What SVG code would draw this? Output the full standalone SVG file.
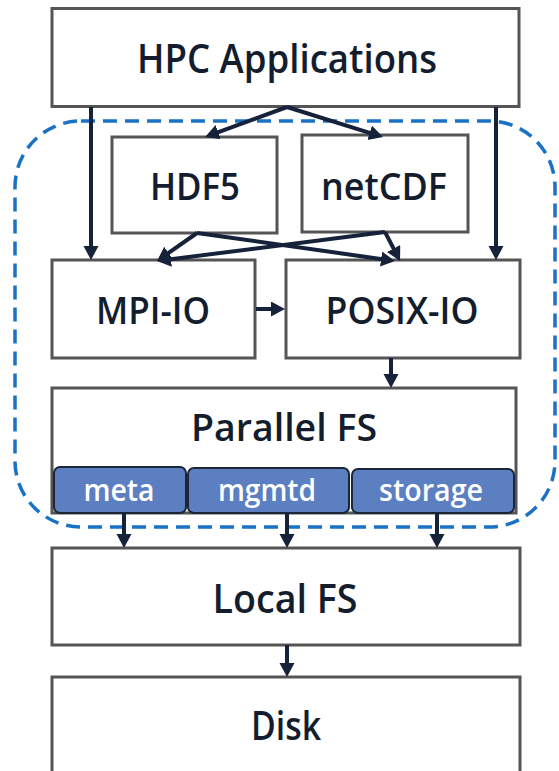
<svg xmlns="http://www.w3.org/2000/svg" width="559" height="771" viewBox="0 0 559 771">
  <style>
    .box { fill: #ffffff; stroke: #555555; stroke-width: 3; }
    .sub { fill: #5b7fc1; stroke: #1c2636; stroke-width: 2; }
    .lbl { font-family: "Open Sans", "Liberation Sans", sans-serif; font-weight: 600; fill: #141d2e; text-anchor: middle; }
    .sublbl { font-family: "Open Sans", "Liberation Sans", sans-serif; font-weight: 600; fill: #ffffff; text-anchor: middle; }
    .edge { stroke: #16213a; stroke-width: 4; fill: none; marker-end: url(#arrow); }
    .zone { fill: none; stroke: #1a72c6; stroke-width: 3.5; stroke-dasharray: 14 8; }
  </style>
  <defs>
    <marker id="arrow" markerUnits="userSpaceOnUse" markerWidth="16" markerHeight="16" refX="10" refY="7.5" orient="auto">
      <path d="M0,0 L14,7.5 L0,15 z" fill="#16213a"/>
    </marker>
  </defs>

  <rect width="559" height="771" fill="#ffffff"/>

  <g id="hpc-applications">
    <rect class="box" x="52" y="8.5" width="467" height="98"/>
    <text class="lbl" x="287" y="73" font-size="40" textLength="300" lengthAdjust="spacingAndGlyphs">HPC Applications</text>
  </g>

  <g id="hdf5">
    <rect class="box" x="112" y="137" width="165" height="96"/>
    <text class="lbl" x="195" y="200" font-size="37" textLength="90" lengthAdjust="spacingAndGlyphs">HDF5</text>
  </g>

  <g id="netcdf">
    <rect class="box" x="302" y="135" width="166" height="97"/>
    <text class="lbl" x="384" y="200" font-size="37" textLength="126" lengthAdjust="spacingAndGlyphs">netCDF</text>
  </g>

  <g id="mpi-io">
    <rect class="box" x="52" y="260" width="203" height="98"/>
    <text class="lbl" x="153" y="324" font-size="37" textLength="114" lengthAdjust="spacingAndGlyphs">MPI-IO</text>
  </g>

  <g id="posix-io">
    <rect class="box" x="286" y="260" width="234" height="98"/>
    <text class="lbl" x="402" y="324" font-size="37" textLength="153" lengthAdjust="spacingAndGlyphs">POSIX-IO</text>
  </g>

  <g id="parallel-fs">
    <rect class="box" x="52" y="388" width="464" height="125"/>
    <text class="lbl" x="284" y="441" font-size="38" textLength="186" lengthAdjust="spacingAndGlyphs">Parallel FS</text>
  </g>

  <g id="meta">
    <rect class="sub" x="54" y="467" width="132" height="46" rx="6"/>
    <text class="sublbl" x="119" y="501" font-size="31" textLength="71" lengthAdjust="spacingAndGlyphs">meta</text>
  </g>

  <g id="mgmtd">
    <rect class="sub" x="188" y="468" width="161" height="45" rx="6"/>
    <text class="sublbl" x="267" y="501" font-size="31" textLength="98" lengthAdjust="spacingAndGlyphs">mgmtd</text>
  </g>

  <g id="storage">
    <rect class="sub" x="352" y="469" width="162" height="44" rx="6"/>
    <text class="sublbl" x="431" y="501" font-size="31" textLength="104" lengthAdjust="spacingAndGlyphs">storage</text>
  </g>

  <g id="local-fs">
    <rect class="box" x="52" y="548" width="468" height="97"/>
    <text class="lbl" x="285" y="613" font-size="39" textLength="145" lengthAdjust="spacingAndGlyphs">Local FS</text>
  </g>

  <g id="disk">
    <rect class="box" x="52" y="677" width="468" height="110"/>
    <text class="lbl" x="286" y="740" font-size="39" textLength="70" lengthAdjust="spacingAndGlyphs">Disk</text>
  </g>

  <!-- software stack boundary -->
  <rect id="io-stack" class="zone" x="15" y="121" width="540" height="406" rx="66" ry="66"/>

  <g id="connectors">
    <line class="edge" x1="91" y1="107" x2="91" y2="256"/>
    <line class="edge" x1="496" y1="107" x2="496" y2="256"/>
    <line class="edge" x1="287" y1="107" x2="208.8" y2="135.6"/>
    <line class="edge" x1="287" y1="107" x2="379.2" y2="135.8"/>
    <line class="edge" x1="197" y1="233" x2="160.3" y2="258.7"/>
    <line class="edge" x1="197" y1="233" x2="391" y2="260.4"/>
    <line class="edge" x1="385" y1="232" x2="398.2" y2="257.4"/>
    <line class="edge" x1="385" y1="232" x2="161" y2="260.5"/>
    <line class="edge" x1="256" y1="309" x2="281" y2="309"/>
    <line class="edge" x1="391" y1="358" x2="391" y2="384"/>
    <line class="edge" x1="124" y1="513" x2="124" y2="544"/>
    <line class="edge" x1="287" y1="513" x2="287" y2="544"/>
    <line class="edge" x1="437" y1="513" x2="437" y2="544"/>
    <line class="edge" x1="287" y1="645" x2="287" y2="673"/>
  </g>
</svg>
